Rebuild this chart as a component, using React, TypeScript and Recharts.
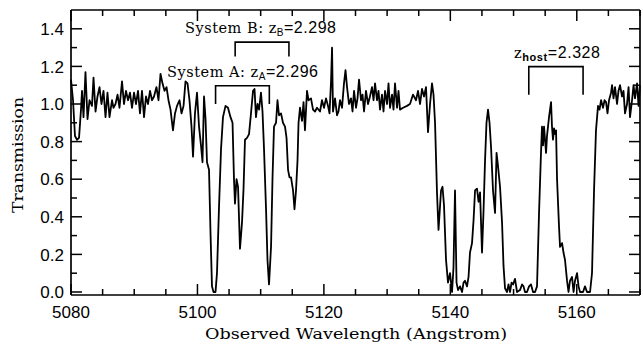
import React from 'react';
import { LineChart, Line, XAxis, YAxis } from 'recharts';

// Normalised transmission spectrum around the C IV absorbers
const wavelength = [
  5080.00, 5080.32, 5080.63, 5080.95, 5081.27, 5081.58, 5081.74, 5081.98, 5082.29, 5082.61,
  5082.93, 5083.32, 5083.56, 5083.88, 5084.19, 5084.51, 5084.82, 5085.14, 5085.46, 5085.77,
  5086.09, 5086.49, 5086.72, 5087.04, 5087.36, 5087.67, 5088.07, 5088.38, 5088.70, 5089.02,
  5089.33, 5089.65, 5089.97, 5090.28, 5090.60, 5090.91, 5091.23, 5091.55, 5091.86, 5092.18,
  5092.50, 5092.81, 5093.13, 5093.52, 5093.84, 5094.16, 5094.47, 5094.79, 5095.11, 5095.42,
  5095.74, 5096.13, 5096.45, 5096.77, 5097.16, 5097.48, 5097.80, 5098.11, 5098.43, 5098.74,
  5099.06, 5099.30, 5099.61, 5099.93, 5100.25, 5100.56, 5100.80, 5101.04, 5101.28, 5101.51,
  5101.83, 5102.07, 5102.30, 5102.54, 5102.86, 5103.09, 5103.41, 5103.73, 5104.04, 5104.44,
  5104.83, 5105.23, 5105.55, 5105.78, 5105.94, 5106.18, 5106.42, 5106.73, 5107.05, 5107.29,
  5107.52, 5107.84, 5108.16, 5108.47, 5108.79, 5109.03, 5109.26, 5109.50, 5109.74, 5110.05,
  5110.29, 5110.53, 5110.85, 5111.08, 5111.32, 5111.64, 5111.87, 5112.11, 5112.43, 5112.66,
  5112.90, 5113.22, 5113.53, 5113.85, 5114.09, 5114.33, 5114.56, 5114.80, 5115.12, 5115.35,
  5115.59, 5115.83, 5115.99, 5116.22, 5116.54, 5116.78, 5117.01, 5117.33, 5117.57, 5117.96,
  5118.28, 5118.60, 5118.91, 5119.39, 5119.70, 5120.02, 5120.34, 5120.65, 5120.89, 5121.13,
  5121.29, 5121.44, 5121.76, 5122.08, 5122.31, 5122.55, 5122.87, 5123.18, 5123.42, 5123.66,
  5123.97, 5124.29, 5124.53, 5124.77, 5125.08, 5125.32, 5125.56, 5125.87, 5126.11, 5126.35,
  5126.66, 5126.98, 5127.22, 5127.61, 5127.85, 5128.09, 5128.40, 5128.64, 5128.88, 5129.19,
  5129.43, 5129.67, 5129.99, 5130.22, 5130.46, 5130.78, 5131.01, 5131.25, 5131.57, 5131.80,
  5132.04, 5132.52, 5133.15, 5133.62, 5134.10, 5134.57, 5134.89, 5135.21, 5135.52, 5135.84,
  5136.15, 5136.47, 5136.79, 5137.10, 5137.34, 5137.58, 5137.89, 5138.13, 5138.53, 5138.76,
  5139.00, 5139.32, 5139.63, 5139.95, 5140.27, 5140.50, 5140.74, 5140.98, 5141.22, 5141.53,
  5141.85, 5142.09, 5142.32, 5142.64, 5142.88, 5143.11, 5143.43, 5143.67, 5143.91, 5144.22,
  5144.46, 5144.70, 5145.01, 5145.25, 5145.49, 5145.72, 5145.96, 5146.20, 5146.44, 5146.75,
  5147.07, 5147.31, 5147.54, 5147.86, 5148.18, 5148.41, 5148.65, 5148.97, 5149.20, 5149.44,
  5149.68, 5149.92, 5150.23, 5150.55, 5151.02, 5151.34, 5151.58, 5151.81, 5152.13, 5152.45,
  5152.76, 5153.08, 5153.40, 5153.71, 5154.03, 5154.34, 5154.50, 5154.66, 5154.82, 5155.14,
  5155.29, 5155.45, 5155.61, 5155.93, 5156.08, 5156.24, 5156.40, 5156.56, 5156.72, 5156.88,
  5157.19, 5157.35, 5157.67, 5157.90, 5158.14, 5158.46, 5158.69, 5158.93, 5159.25, 5159.49,
  5159.72, 5160.04, 5160.28, 5160.51, 5160.99, 5161.30, 5161.62, 5162.10, 5162.41, 5162.73,
  5163.04, 5163.36, 5163.60, 5163.84, 5164.15, 5164.39, 5164.63, 5164.86, 5165.10, 5165.42,
  5165.58, 5165.81, 5166.05, 5166.37, 5166.60, 5166.84, 5167.16, 5167.39, 5167.63, 5167.95,
  5168.19, 5168.42, 5168.74, 5168.98, 5169.21, 5169.53, 5169.77, 5170.00,
];

const transmission = [
  1.13, 1.02, 0.83, 0.81, 0.82, 0.97, 1.07, 0.93, 1.17, 0.92,
  1.02, 0.99, 1.14, 0.96, 1.04, 1.09, 1.00, 1.07, 0.93, 1.06,
  0.93, 1.02, 0.98, 1.00, 1.05, 0.98, 1.12, 1.00, 1.07, 1.02,
  1.06, 0.98, 1.06, 1.00, 1.07, 0.95, 1.07, 0.93, 1.04, 1.00,
  1.07, 1.02, 1.04, 1.09, 1.02, 1.16, 1.11, 1.07, 1.09, 1.02,
  0.97, 0.86, 0.95, 0.99, 1.02, 0.95, 0.99, 1.12, 1.11, 1.02,
  0.88, 0.72, 0.95, 1.06, 0.88, 0.78, 0.69, 1.04, 0.92, 0.69,
  0.65, 0.31, 0.03, 0.00, 0.00, 0.10, 0.45, 0.76, 0.93, 0.99,
  0.98, 0.93, 0.90, 0.60, 0.47, 0.60, 0.56, 0.23, 0.37, 0.55,
  0.81, 0.82, 0.84, 0.95, 1.07, 1.08, 0.93, 1.00, 0.97, 1.06,
  0.96, 0.76, 0.44, 0.17, 0.04, 0.24, 0.60, 0.88, 0.90, 1.02,
  0.94, 0.95, 0.90, 0.88, 0.82, 0.65, 0.61, 0.61, 0.54, 0.44,
  0.54, 0.70, 0.90, 0.98, 0.91, 1.01, 0.86, 1.07, 1.02, 1.03,
  0.97, 0.96, 0.98, 0.96, 1.02, 0.98, 1.03, 0.99, 0.95, 1.12,
  1.30, 0.96, 1.03, 0.94, 0.96, 1.02, 0.98, 1.11, 1.18, 1.09,
  1.00, 1.03, 0.96, 1.07, 0.98, 1.03, 1.13, 1.02, 1.05, 0.96,
  1.07, 1.00, 1.03, 1.09, 1.02, 1.11, 1.02, 1.07, 0.97, 1.05,
  0.96, 1.07, 1.00, 1.11, 0.98, 1.05, 0.97, 1.11, 0.98, 1.07,
  0.97, 0.98, 0.99, 1.00, 1.05, 1.02, 1.07, 1.00, 1.08, 1.04,
  1.09, 0.85, 1.00, 1.11, 1.05, 0.90, 0.53, 0.33, 0.54, 0.56,
  0.46, 0.17, 0.05, 0.10, 0.00, 0.13, 0.54, 0.05, 0.01, 0.03,
  0.00, 0.05, 0.06, 0.03, 0.08, 0.21, 0.26, 0.38, 0.54, 0.55,
  0.48, 0.53, 0.21, 0.43, 0.70, 0.90, 0.97, 0.90, 0.77, 0.54,
  0.42, 0.74, 0.67, 0.56, 0.37, 0.14, 0.02, 0.00, 0.04, 0.00,
  0.05, 0.04, 0.07, 0.00, 0.01, 0.04, 0.03, 0.00, 0.00, 0.03,
  0.04, 0.00, 0.00, 0.03, 0.42, 0.74, 0.88, 0.78, 0.88, 0.74,
  0.83, 0.88, 0.93, 1.01, 0.88, 0.81, 0.87, 0.84, 0.86, 0.60,
  0.35, 0.24, 0.26, 0.21, 0.17, 0.06, 0.00, 0.06, 0.08, 0.00,
  0.06, 0.10, 0.03, 0.00, 0.00, 0.03, 0.00, 0.00, 0.10, 0.54,
  0.86, 0.99, 0.97, 1.02, 0.98, 1.02, 1.01, 0.95, 1.02, 1.06,
  1.10, 1.03, 1.09, 1.00, 1.07, 1.10, 1.04, 1.07, 0.95, 1.00,
  1.09, 0.93, 1.02, 1.10, 1.03, 1.11, 0.99, 1.10,
];

// Axis ticks (minor every 5 A / 0.1, labelled every 20 A / 0.2)
const xTicks = [
  5080, 5085, 5090, 5095, 5100, 5105, 5110, 5115, 5120, 5125,
  5130, 5135, 5140, 5145, 5150, 5155, 5160, 5165, 5170,
];
const xTickLabels = ['5080', '5100', '5120', '5140', '5160'];
const yTicks = [0, 0.1, 0.2, 0.3, 0.4, 0.5, 0.6, 0.7, 0.8, 0.9, 1.0, 1.1, 1.2, 1.3, 1.4];
const yTickLabels = ['0.0', '0.2', '0.4', '0.6', '0.8', '1.0', '1.2', '1.4'];

// C IV doublet rest wavelengths and the absorption systems marked above the spectrum
const civRest = [1548.2, 1550.78];
const systemNames = ['A', 'B', 'host'];
const systemRedshifts = [2.296, 2.298, 2.328];
const bracketTops = [1.097, 1.329, 1.199];
const bracketFeet = [1.0, 1.253, 1.049];

const X_DOMAIN: [number, number] = [5080, 5170];
const Y_DOMAIN: [number, number] = [-0.016, 1.5];

// Chart geometry
const CHART_W = 643;
const CHART_H = 346;
const LEFT_W = 71;
const TOP_H = 10;
const BOTTOM_H = 51;
const RIGHT_GAP = 3;
const PLOT_W = CHART_W - LEFT_W - RIGHT_GAP;
const PLOT_H = CHART_H - TOP_H - BOTTOM_H;
const MAJOR_PX = 11;
const MINOR_PX = 6;
const TICK_W = 1.5;

const isMajorX = (v: number) => xTickLabels.includes(String(v));
const yLabelFor = (v: number) => yTickLabels.find((s) => Math.abs(parseFloat(s) - v) < 1e-6);

const spectrum = wavelength
  .slice(0, Math.min(wavelength.length, transmission.length))
  .map((w, i) => ({ w, t: transmission[i] }));

const brackets = systemRedshifts.map((z, i) => {
  const lo = civRest[0] * (1 + z);
  const hi = civRest[1] * (1 + z);
  return [
    { w: lo, t: bracketFeet[i] },
    { w: lo, t: bracketTops[i] },
    { w: hi, t: bracketTops[i] },
    { w: hi, t: bracketFeet[i] },
  ];
});

// Right-hand border of the frame
const rightEdge = [
  { w: X_DOMAIN[1], t: Y_DOMAIN[0] },
  { w: X_DOMAIN[1], t: Y_DOMAIN[1] },
];

const INK = '#000';
const TICK_FONT = "'Liberation Sans', Arial, sans-serif";
const SERIF = "'DejaVu Serif', serif";

// Frame positions of the tick values, for the tick marks layered over the chart
const frameX = (w: number) => LEFT_W + ((w - X_DOMAIN[0]) / (X_DOMAIN[1] - X_DOMAIN[0])) * PLOT_W;
const frameY = (t: number) => TOP_H + ((Y_DOMAIN[1] - t) / (Y_DOMAIN[1] - Y_DOMAIN[0])) * PLOT_H;

const FrameTicks = () => {
  const bottom = TOP_H + PLOT_H;
  const right = LEFT_W + PLOT_W;
  return (
    <g stroke={INK} strokeWidth={TICK_W} fill="none">
      {xTicks.map((v) => {
        const x = frameX(v);
        const len = isMajorX(v) ? MAJOR_PX : MINOR_PX;
        return (
          <g key={`x${v}`}>
            <line x1={x} x2={x} y1={bottom} y2={bottom - len} />
            <line x1={x} x2={x} y1={TOP_H} y2={TOP_H + len} />
          </g>
        );
      })}
      {yTicks.map((v) => {
        const y = frameY(v);
        const len = yLabelFor(v) ? MAJOR_PX : MINOR_PX;
        return (
          <g key={`y${v}`}>
            <line x1={LEFT_W} x2={LEFT_W + len} y1={y} y2={y} />
            <line x1={right} x2={right - len} y1={y} y2={y} />
          </g>
        );
      })}
    </g>
  );
};

const BottomLabel = (props: any) => {
  const x = Number(props.x);
  const y = Number(props.y);
  const v = props.payload.value;
  if (!isMajorX(v)) return <g />;
  return (
    <text x={x} y={y + 23} textAnchor="middle" fontFamily={TICK_FONT} fontSize={17} fill={INK}>
      {v}
    </text>
  );
};

const LeftLabel = (props: any) => {
  const x = Number(props.x);
  const y = Number(props.y);
  const label = yLabelFor(props.payload.value);
  if (!label) return <g />;
  return (
    <text x={x - 7} y={y} dy="0.36em" textAnchor="end" fontFamily={TICK_FONT} fontSize={17} fill={INK}>
      {label}
    </text>
  );
};

const axisLine = { stroke: INK, strokeWidth: 1.7 };

const SystemLabel = ({ x, y, name, z, width }: { x: number; y: number; name: string; z: number; width: number }) => {
  const isHost = name === 'host';
  return (
    <text x={x} y={y} fill={INK} textLength={width} lengthAdjust="spacing">
      {!isHost && (
        <tspan fontFamily={SERIF} fontSize={14.5}>
          {`System ${name}: `}
        </tspan>
      )}
      <tspan fontFamily={SERIF} fontSize={14.5}>z</tspan>
      <tspan fontFamily={TICK_FONT} fontSize={isHost ? 11 : 10} fontWeight={isHost ? 'bold' : 'normal'} dy={3}>
        {name}
      </tspan>
      <tspan fontFamily={TICK_FONT} fontSize={16} dy={-3}>
        {`=${z.toFixed(3)}`}
      </tspan>
    </text>
  );
};

export default function App() {
  return (
    <div style={{ position: 'absolute', left: 0, top: 0, width: CHART_W, height: CHART_H, background: '#fff' }}>
      <LineChart width={CHART_W} height={CHART_H} margin={{ top: 0, right: RIGHT_GAP, bottom: 0, left: 0 }}>
        <XAxis
          xAxisId="bottom"
          dataKey="w"
          type="number"
          domain={X_DOMAIN}
          ticks={xTicks}
          interval={0}
          height={BOTTOM_H}
          tickSize={0}
          tickMargin={0}
          tickLine={false}
          axisLine={axisLine}
          tick={(p: any) => <BottomLabel {...p} />}
        />
        <XAxis
          xAxisId="top"
          orientation="top"
          dataKey="w"
          type="number"
          domain={X_DOMAIN}
          ticks={xTicks}
          interval={0}
          height={TOP_H}
          tickSize={0}
          tickMargin={0}
          tickLine={false}
          axisLine={axisLine}
          tick={() => <g />}
        />
        <YAxis
          yAxisId="left"
          type="number"
          domain={Y_DOMAIN}
          ticks={yTicks}
          interval={0}
          width={LEFT_W}
          tickSize={0}
          tickMargin={0}
          tickLine={false}
          axisLine={axisLine}
          tick={(p: any) => <LeftLabel {...p} />}
        />
        <Line
          xAxisId="bottom"
          yAxisId="left"
          data={rightEdge}
          dataKey="t"
          type="linear"
          stroke={INK}
          strokeWidth={1.7}
          dot={false}
          activeDot={false}
          isAnimationActive={false}
        />
        <Line
          xAxisId="bottom"
          yAxisId="left"
          data={spectrum}
          dataKey="t"
          type="linear"
          stroke={INK}
          strokeWidth={1.8}
          strokeLinejoin="round"
          dot={false}
          activeDot={false}
          isAnimationActive={false}
        />
        {brackets.map((b, i) => (
          <Line
            key={systemNames[i]}
            xAxisId="bottom"
            yAxisId="left"
            data={b}
            dataKey="t"
            type="linear"
            stroke={INK}
            strokeWidth={1.6}
            dot={false}
            activeDot={false}
            isAnimationActive={false}
          />
        ))}
      </LineChart>
      <svg
        width={CHART_W}
        height={CHART_H}
        style={{ position: 'absolute', left: 0, top: 0, pointerEvents: 'none' }}
      >
        <FrameTicks />
        <text
          x={356}
          y={339}
          textAnchor="middle"
          fontFamily={SERIF}
          fontSize={15.5}
          textLength={302}
          lengthAdjust="spacingAndGlyphs"
          fill={INK}
        >
          Observed Wavelength (Angstrom)
        </text>
        <text
          transform="translate(23,155) rotate(-90)"
          textAnchor="middle"
          fontFamily={SERIF}
          fontSize={15.5}
          textLength={116}
          lengthAdjust="spacingAndGlyphs"
          fill={INK}
        >
          Transmission
        </text>
        <SystemLabel x={185} y={33} name={systemNames[1]} z={systemRedshifts[1]} width={151} />
        <SystemLabel x={167} y={77} name={systemNames[0]} z={systemRedshifts[0]} width={151} />
        <SystemLabel x={514} y={58} name={systemNames[2]} z={systemRedshifts[2]} width={86} />
      </svg>
    </div>
  );
}
